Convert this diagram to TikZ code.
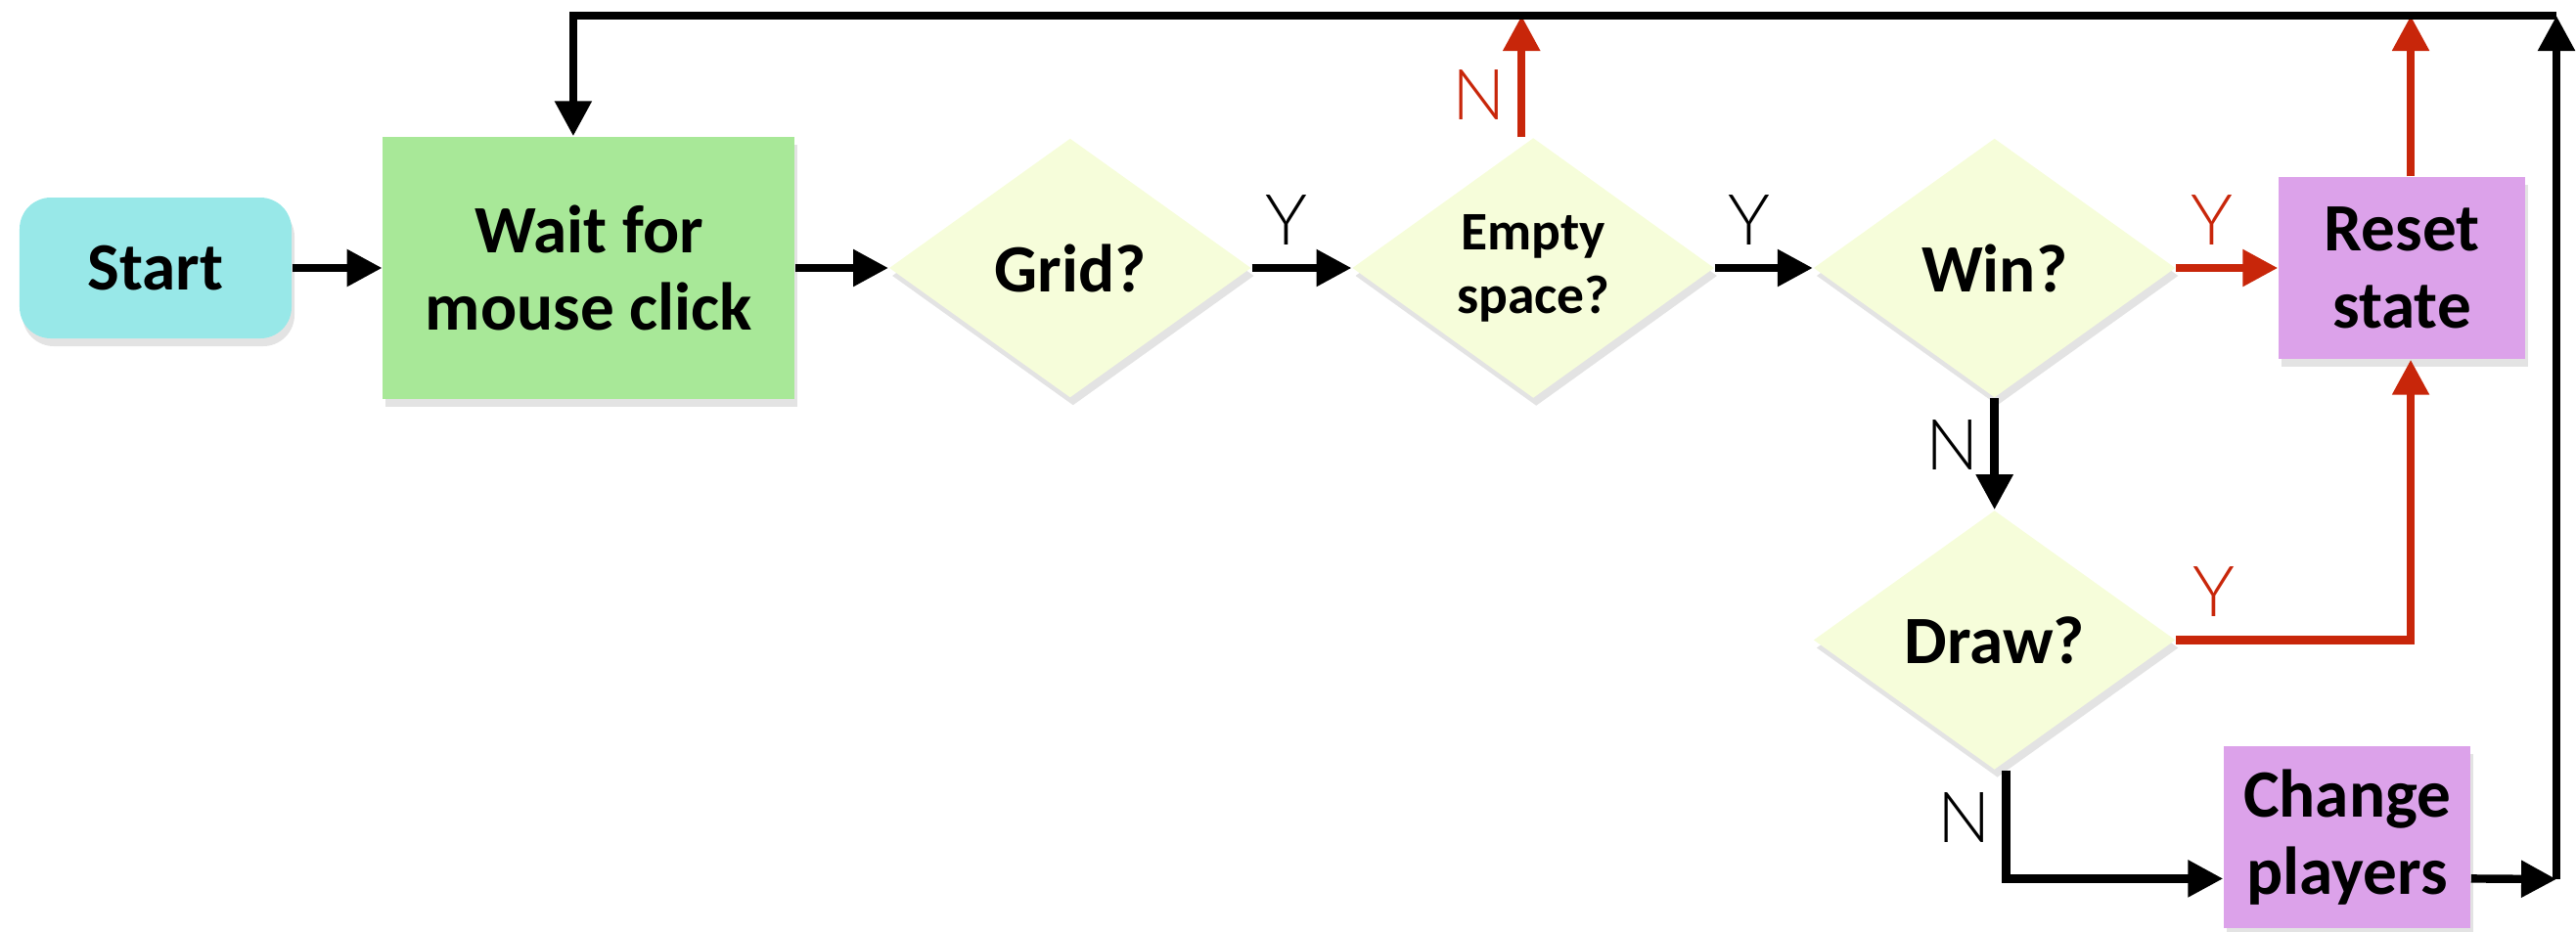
\documentclass[tikz,border=0pt]{standalone}
\usepackage{fontspec}
\setmainfont{Carlito}
\newfontfamily\thinfont{Lato Light}
\usepackage{tikz}
\usetikzlibrary{positioning,arrows.meta,shapes.geometric,shadows}

\definecolor{startcol}{RGB}{152,232,232}
\definecolor{holdcol}{RGB}{168,232,152}
\definecolor{askcol}{RGB}{246,253,218}
\definecolor{actcol}{RGB}{220,162,234}
\definecolor{nored}{RGB}{200,38,10}

\begin{document}
\begin{tikzpicture}[
  node distance=1cm and 1cm,
  base/.style={align=center, inner sep=0pt, font=\fontsize{19.7}{22.5}\selectfont\bfseries,
    drop shadow={shadow xshift=0.3mm, shadow yshift=-0.8mm, opacity=0.22}},
  term/.style={base, fill=startcol, rounded corners=3.2mm, minimum width=2.78cm, minimum height=1.44cm},
  hold/.style={base, fill=holdcol, minimum width=4.21cm, minimum height=2.68cm},
  ask/.style={base, diamond, fill=askcol, minimum width=3.7cm, minimum height=2.65cm},
  act/.style={base, fill=actcol, minimum width=2.52cm, minimum height=1.86cm},
  arr/.style={-{Triangle[length=3.6mm, width=3.6mm]}, line width=2.4pt},
  redarr/.style={arr, color=nored},
  lbl/.style={font=\thinfont\fontsize{20.5}{23}\selectfont},
  redlbl/.style={lbl, text=nored}
]
  \useasboundingbox (0,0) rectangle (26.33,-9.52);
  \node[term] (start) at (1.59,-2.74) {Start};
  \node[hold, right=0.92cm of start] (wait) {Wait for\\mouse click};
  \node[ask, right=0.95cm of wait] (gridq) {Grid?};
  \node[ask, right=1.02cm of gridq, font=\fontsize{15.8}{18.5}\selectfont\bfseries] (emptyq) {Empty\\space?};
  \node[ask, right=1cm of emptyq] (winq) {Win?};
  \node[act, right=1.04cm of winq] (reset) {Reset\\state};
  \node[ask, below=1.14cm of winq] (drawq) {Draw?};
  \node[act, right=0.48cm of drawq, yshift=-2.02cm] (change) {Change\\players};
  \coordinate (se) at (26.13,-8.99);
  \coordinate (ne) at (26.13,-0.16);
  \draw[arr] (start) -- (wait);
  \draw[arr] (wait) -- (gridq);
  \draw[arr] (gridq) -- node[lbl, above=0.8mm, pos=0.35] {Y} (emptyq);
  \draw[arr] (emptyq) -- node[lbl, above=0.8mm, pos=0.35] {Y} (winq);
  \draw[redarr] (winq) -- node[redlbl, above=0.8mm, pos=0.35] {Y} (reset);
  \draw[redarr] ([xshift=-1.2mm]emptyq.north) -- node[redlbl, left, pos=0.35] {N} ([xshift=-1.2mm]emptyq.north |- ne);
  \draw[redarr] ([xshift=0.9mm]reset.north) -- ([xshift=0.9mm]reset.north |- ne);
  \draw[arr] (winq) -- node[lbl, left, pos=0.42] {N} (drawq);
  \draw[redarr] (drawq.east) -| node[redlbl, above=0.8mm, pos=0.08] {Y} ([xshift=0.9mm]reset.south);
  \draw[arr] ([xshift=1.2mm]drawq.south) |- node[lbl, left, pos=0.22] {N} ([yshift=-4.2mm]change.west);
  \draw[arr] ([yshift=-4.2mm]change.east) -- (se);
  \draw[arr] (se) -- (ne);
  \draw[arr] (ne) -| ([xshift=-1.6mm]wait.north);
\end{tikzpicture}
\end{document}
